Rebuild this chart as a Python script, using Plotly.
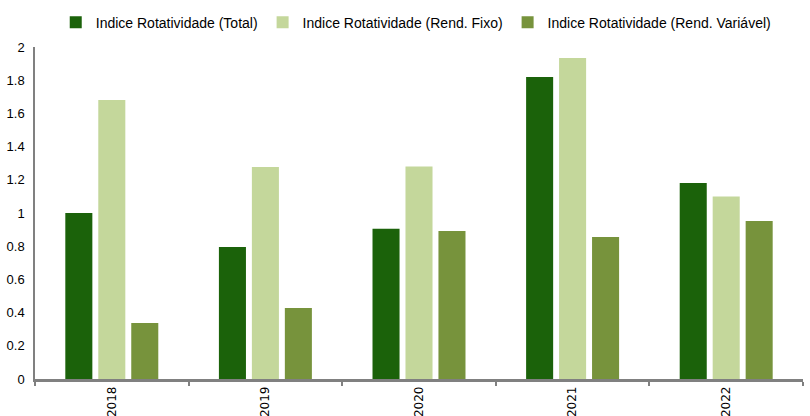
import plotly.graph_objects as go

years = ["2018", "2019", "2020", "2021", "2022"]
total = [1.00, 0.795, 0.905, 1.82, 1.18]
fixo = [1.68, 1.277, 1.28, 1.934, 1.10]
variavel = [0.337, 0.428, 0.892, 0.855, 0.952]

names = ["Indice Rotatividade (Total)", "Indice Rotatividade (Rend. Fixo)", "Indice Rotatividade (Rend. Variável)"]
colors = ["#1B620A", "#C4D79B", "#77933C"]

fig = go.Figure()
for n, vals, c in zip(names, [total, fixo, variavel], colors):
    fig.add_trace(go.Bar(x=years, y=vals, name=n, marker=dict(color=c, line=dict(width=0))))

fig.update_layout(
    width=810, height=416,
    margin=dict(l=35, r=7, t=47, b=37, autoexpand=False),
    paper_bgcolor="white", plot_bgcolor="white",
    barmode="group", bargap=0.356, bargroupgap=0.18,
    font=dict(family="Liberation Sans, Arial, sans-serif", size=13, color="#000000"),
    legend=dict(orientation="h", x=0.027, y=1.025, xanchor="left", yanchor="bottom",
                font=dict(size=14), itemwidth=30, traceorder="normal",
                tracegroupgap=0),
    showlegend=True,
)
fig.update_xaxes(
    type="category", showline=True, linecolor="#808080", linewidth=2.5,
    ticks="outside", tickson="boundaries", ticklen=4, tickcolor="#808080", tickwidth=2,
    tickangle=-90, tickfont=dict(family="DejaVu Sans", size=12), showgrid=False,
    automargin=False,
)
fig.update_yaxes(
    range=[0, 2], showline=True, linecolor="#808080", linewidth=1.5,
    showgrid=False, zeroline=False, ticks="", tickfont=dict(size=13),
    ticklabelstandoff=6,
    tickvals=[0, 0.2, 0.4, 0.6, 0.8, 1, 1.2, 1.4, 1.6, 1.8, 2],
    ticktext=["0", "0.2", "0.4", "0.6", "0.8", "1", "1.2", "1.4", "1.6", "1.8", "2"],
    automargin=False,
)

fig.write_html("out.html")
